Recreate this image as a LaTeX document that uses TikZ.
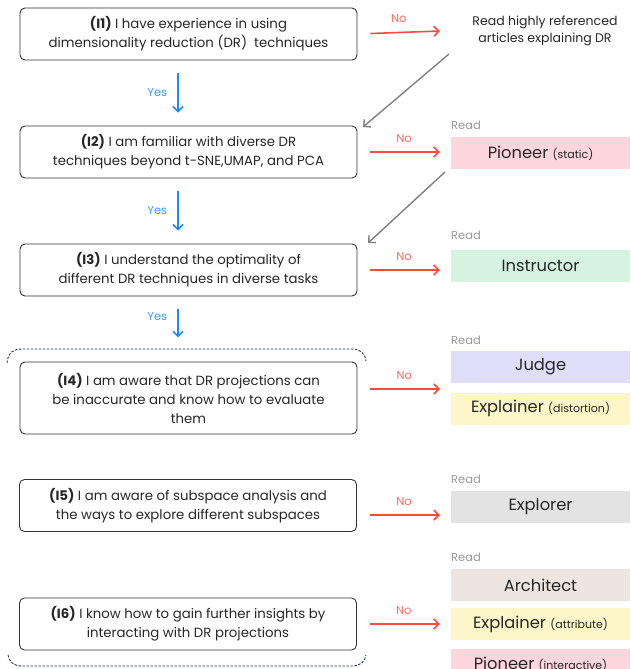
\documentclass[tikz,border=0pt]{standalone}
\usepackage{fontspec}
\setmainfont{Poppins}
\usetikzlibrary{arrows.meta,calc}
\definecolor{boxline}{HTML}{333333}
\definecolor{noRed}{HTML}{FF4B3E}
\definecolor{noText}{HTML}{FF6A60}
\definecolor{yesBlue}{HTML}{1E88FF}
\definecolor{yesText}{HTML}{3C9BFF}
\definecolor{grayArrow}{HTML}{808080}
\definecolor{readGray}{HTML}{9A9A9A}
\definecolor{dashNavy}{HTML}{22355A}
\definecolor{cPink}{HTML}{FDD5DC}
\definecolor{cGreen}{HTML}{D5F3DE}
\definecolor{cLav}{HTML}{E0DDF8}
\definecolor{cYellow}{HTML}{FDF6C8}
\definecolor{cGray}{HTML}{E3E3E3}
\definecolor{cBeige}{HTML}{EDE6E0}
\begin{document}
\begin{tikzpicture}[x=1pt,y=-1pt,
  qbox/.style={draw=boxline, line width=0.9pt, rounded corners=5pt, minimum width=337pt, minimum height=52pt, align=center, inner sep=0pt, font=\fontsize{13.3}{19}\selectfont, text=black!85},
  tbox/.style={minimum width=179pt, minimum height=32pt, inner sep=0pt, font=\fontsize{16.3}{18}\selectfont, text=black!85},
  readlbl/.style={anchor=west, inner sep=0pt, text=readGray, font=\fontsize{11.5}{13}\selectfont},
  noarrow/.style={draw=noRed, line width=1.6pt, -{Straight Barb[length=5pt,width=10pt]}, shorten <=13pt, shorten >=11pt},
  yesarrow/.style={draw=yesBlue, line width=1.6pt, -{Straight Barb[length=5pt,width=10pt]}, shorten <=13pt, shorten >=13pt},
  grayarrow/.style={draw=grayArrow, line width=1.4pt, -{Straight Barb[length=5pt,width=10pt]}},
  nolbl/.style={midway, above=9pt, inner sep=0pt, text=noText, font=\fontsize{11.5}{13}\selectfont},
  yeslbl/.style={midway, left=10pt, inner sep=0pt, text=yesText, font=\fontsize{11.5}{13}\selectfont},
  bracket/.style={draw=dashNavy, line width=0.9pt, dash pattern=on 2.5pt off 1.5pt}
]
\useasboundingbox (0,0) rectangle (630,669);
% question boxes
\node[qbox] (q1) at (188.5,34) {\textbf{(I1)} I have experience in using\\dimensionality reduction (DR)\ \ techniques};
\node[qbox] (q2) at (188.5,152) {\textbf{(I2)} I am familiar with diverse DR\\techniques beyond t-SNE,UMAP, and PCA};
\node[qbox] (q3) at (188.5,270) {\textbf{(I3)} I understand the optimality of\\different DR techniques in diverse tasks};
\node[qbox, minimum height=72pt] (q4) at (188.5,398) {\textbf{(I4)} I am aware that DR projections can\\be inaccurate and know how to evaluate\\them};
\node[qbox] (q5) at (188,505.5) {\textbf{(I5)} I am aware of subspace analysis and\\the ways to explore different subspaces};
\node[qbox] (q6) at (188,624) {\textbf{(I6)} I know how to gain further insights by\\interacting with DR projections};
% targets
\node[align=center, inner sep=0pt, text=black!85, font=\fontsize{12.5}{17}\selectfont] (r1) at (545,31) {Read highly referenced\\articles explaining DR};
\coordinate (t1) at (451,31);
\node[tbox, fill=cPink] (pio) at (540.5,153) {Pioneer {\fontsize{11}{12}\selectfont(static)}};
\node[tbox, fill=cGreen] (ins) at (540.5,266) {Instructor};
\node[tbox, fill=cLav] (jud) at (540.5,367) {Judge};
\node[tbox, fill=cYellow] (ex1) at (540.5,408.5) {Explainer {\fontsize{11}{12}\selectfont(distortion)}};
\coordinate (t4) at (451,389);
\node[tbox, fill=cGray] (exp) at (540.5,507) {Explorer};
\coordinate (s5) at (357,515);
\coordinate (t5) at (451,515);
\node[tbox, fill=cBeige] (arc) at (540.5,585) {Architect};
\node[tbox, fill=cYellow] (ex2) at (540.5,624) {Explainer {\fontsize{11}{12}\selectfont(attribute)}};
\node[tbox, fill=cPink] (pio2) at (540.5,664.5) {Pioneer {\fontsize{11}{12}\selectfont(interactive)}};
% Read labels
\node[readlbl] (rd2) at (451,125) {Read};
\node[readlbl] (rd3) at (451,235) {Read};
\node[readlbl] (rd4) at (451,340) {Read};
\node[readlbl] (rd5) at (451,479) {Read};
\node[readlbl] (rd6) at (451,557) {Read};
% yes arrows
\draw[yesarrow] ($(q1.south)+(-10.5,0)$) -- node[yeslbl]{Yes} ($(q2.north)+(-10.5,0)$);
\draw[yesarrow] ($(q2.south)+(-10.5,0)$) -- node[yeslbl]{Yes} ($(q3.north)+(-10.5,0)$);
\draw[yesarrow, shorten >=0pt] ($(q3.south)+(-10.5,0)$) -- node[yeslbl]{Yes} ($(q3.south)+(-10.5,41)$);
% no arrows
\draw[noarrow, shorten >=0pt] (q1.east) -- node[nolbl]{No} ($(t1)+(-11,0)$);
\draw[noarrow] (q2.east) -- node[nolbl]{No} (q2.east -| pio.west);
\draw[noarrow] (q3.east) -- node[nolbl]{No} (q3.east -| ins.west);
\draw[noarrow] ($(q4.east)+(0,-9)$) -- node[nolbl]{No} (t4);
\draw[noarrow] (s5) -- node[nolbl]{No} (t5);
\draw[noarrow] (q6.east) -- node[nolbl]{No} (q6.east -| ex2.west);
% gray arrows
\coordinate (g1a) at (449,54); \coordinate (g1b) at (363,127);
\coordinate (g2a) at (445,172); \coordinate (g2b) at (368,243);
\draw[grayarrow] (g1a) -- (g1b);
\draw[grayarrow] (g2a) -- (g2b);
% brackets
\draw[bracket] (7,363) .. controls (8,352) and (14,349) .. (22,349) -- (352,349) .. controls (360,349) and (365,353) .. (366,361);
\draw[bracket] (8,655) .. controls (9,662) and (14,666) .. (22,666) -- (352,666) .. controls (360,666) and (365,662) .. (366,655);
\end{tikzpicture}
\end{document}
